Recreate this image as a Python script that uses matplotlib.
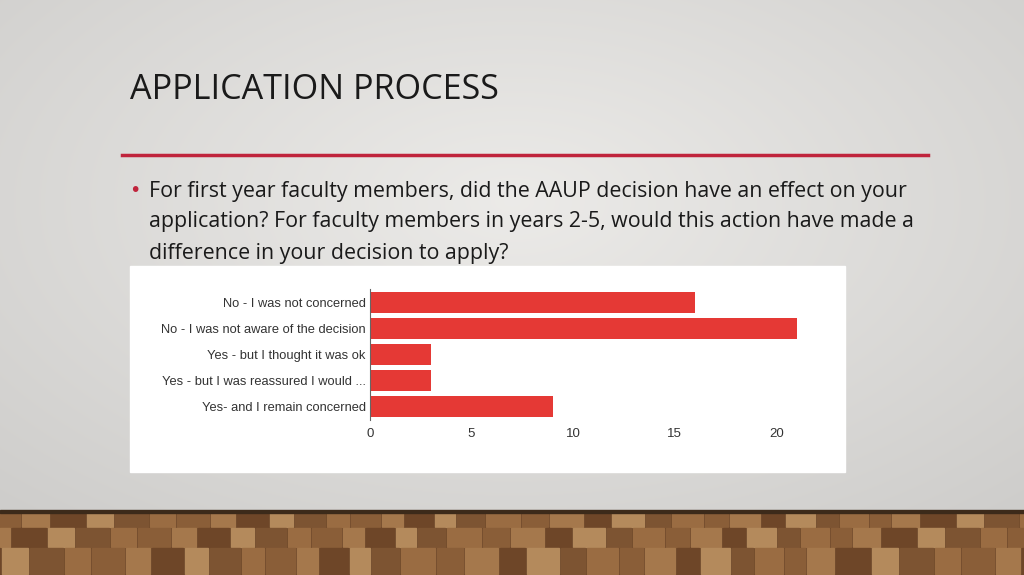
import numpy as np
import matplotlib
matplotlib.use("Agg")
import matplotlib.pyplot as plt
from matplotlib.patches import Rectangle

categories = [
    "No - I was not concerned",
    "No - I was not aware of the decision",
    "Yes - but I thought it was ok",
    "Yes - but I was reassured I would ...",
    "Yes- and I remain concerned",
]
counts = [16, 21, 3, 3, 9]
ticks = [0, 5, 10, 15, 20]

W, H = 1024, 575
fig = plt.figure(figsize=(W / 100, H / 100), dpi=100)

# slide background: soft radial gradient
bg = fig.add_axes([0, 0, 1, 1])
yy, xx = np.mgrid[0:H, 0:W]
r = np.sqrt(((xx - W * 0.5) / W) ** 2 + ((yy - H * 0.35) / H) ** 2)
shade = np.clip(0.925 - 0.16 * r, 0, 1)
bg.imshow(np.dstack([shade, shade * 0.995, shade * 0.985]), extent=[0, W, H, 0], aspect="auto")
bg.set_xlim(0, W)
bg.set_ylim(H, 0)
bg.axis("off")

# wooden floor
bg.add_patch(Rectangle((0, 512), W, 63, color="#6a4528", zorder=1))
browns = ["#8a5e38", "#a5784c", "#6e4628", "#b48a5c", "#7d5432", "#9a6c42"]
rows = [(512, 528), (528, 548), (548, 575)]
for ri, (y0, y1) in enumerate(rows):
    x = -ri * 17
    k = ri
    while x < W:
        w = 22 + (k * 7) % 15
        bg.add_patch(Rectangle((x, y0), w - 2, y1 - y0 - 1, color=browns[k % len(browns)], zorder=2))
        x += w
        k += 1
bg.add_patch(Rectangle((0, 510), W, 3, color="#3c2a1a", zorder=3))

# title, rule, bullet text
bg.text(130, 90, "APPLICATION PROCESS", fontsize=24.6, color="#1a1a1a", va="center", ha="left",
        family="Open Sans")
bg.plot([122, 928], [155, 155], color="#c0243c", lw=2.5)
bg.text(129, 191, "•", fontsize=14, color="#c0243c", va="center")
lines = [
    "For first year faculty members, did the AAUP decision have an effect on your",
    "application? For faculty members in years 2-5, would this action have made a",
    "difference in your decision to apply?",
]
for i, t in enumerate(lines):
    bg.text(149, 191 + 31 * i, t, fontsize=15.4, color="#1a1a1a", va="center", family="Open Sans")

# white chart card
bg.add_patch(Rectangle((130, 266), 715, 206, color="white", zorder=4))

ax = fig.add_axes([370 / W, 1 - 420 / H, 447 / W, 131 / H])
ax.barh(range(len(categories)), counts, height=0.8, color="#e53935")
ax.set_ylim(len(categories) - 0.5, -0.5)
ax.set_xlim(0, 22)
ax.set_yticks(range(len(categories)))
ax.set_yticklabels(categories, fontsize=9.3, color="#333333", family="Liberation Sans")
ax.set_xticks(ticks)
ax.set_xticklabels([str(t) for t in ticks], fontsize=9.5, color="#333333", family="Liberation Sans")
ax.tick_params(length=0, pad=3)
ax.tick_params(axis="x", pad=6)
for s in ["top", "right", "bottom"]:
    ax.spines[s].set_visible(False)
ax.spines["left"].set_color("#666666")
ax.spines["left"].set_linewidth(0.8)
ax.patch.set_alpha(0)

fig.savefig("out.png", dpi=100)
